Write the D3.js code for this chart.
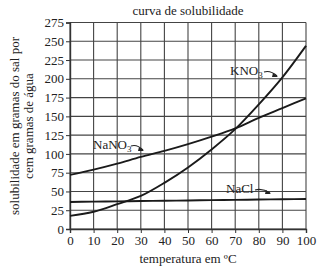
<!DOCTYPE html>
<html lang="pt">
<head>
<meta charset="UTF-8"/>
<title>curva de solubilidade</title>
<script src="https://d3js.org/d3.v7.min.js"></script>
<style>
	body { margin: 0; background: #fff; }
	text { font-family: "Liberation Serif", "DejaVu Serif", serif; fill: #222; }
</style>
</head>
<body>
<script>
	var w = 333;
	var h = 269;

	// temperatures (ºC) and solubility (g per 100 g water)
	var temps = [0, 10, 20, 30, 40, 50, 60, 70, 80, 90, 100];
	var kno3  = [17.5, 23, 33, 44, 61.5, 82, 106, 133, 166, 202, 244];
	var nano3 = [72, 79, 87, 96, 104, 113, 123, 134, 148, 161, 174];
	var nacl  = [36, 36.4, 36.8, 37.2, 37.6, 38, 38.4, 38.8, 39.2, 39.6, 40];
	var yTicks = [0, 25, 50, 75, 100, 125, 150, 175, 200, 225, 250, 275];

	var xScale = d3.scaleLinear().domain([0, 100]).range([70, 306]);
	var yScale = d3.scaleLinear().domain([0, 275]).range([229, 22.5]);

	var svg = d3.select("body").append("svg")
		.attr("width", w)
		.attr("height", h);

	// grid
	svg.append("g").selectAll("line")
		.data(temps)
		.enter().append("line")
		.attr("x1", function(d) { return xScale(d); })
		.attr("x2", function(d) { return xScale(d); })
		.attr("y1", yScale(0))
		.attr("y2", yScale(275))
		.attr("stroke", "#444")
		.attr("stroke-width", 1.1);
	svg.append("g").selectAll("line")
		.data(yTicks)
		.enter().append("line")
		.attr("x1", xScale(0))
		.attr("x2", xScale(100))
		.attr("y1", function(d) { return yScale(d); })
		.attr("y2", function(d) { return yScale(d); })
		.attr("stroke", "#444")
		.attr("stroke-width", 1.1);

	// axes
	var xAxis = d3.axisBottom(xScale).tickValues(temps).tickSize(4).tickPadding(3);
	var yAxis = d3.axisLeft(yScale).tickValues(yTicks).tickSize(4).tickPadding(2);

	var gx = svg.append("g")
		.attr("transform", "translate(0," + yScale(0) + ")")
		.call(xAxis);
	var gy = svg.append("g")
		.attr("transform", "translate(" + xScale(0) + ",0)")
		.call(yAxis);
	[gx, gy].forEach(function(g) {
		g.select(".domain").attr("stroke", "#333").attr("stroke-width", 1.4);
		g.selectAll(".tick line").attr("stroke", "#333");
		g.selectAll(".tick text")
			.attr("font-family", "Liberation Serif")
			.attr("font-size", 13)
			.attr("fill", "#222");
	});

	// curves
	var line = d3.line()
		.x(function(d) { return xScale(d[0]); })
		.y(function(d) { return yScale(d[1]); })
		.curve(d3.curveMonotoneX);

	[kno3, nano3, nacl].forEach(function(s) {
		svg.append("path")
			.datum(temps.map(function(t, i) { return [t, s[i]]; }))
			.attr("d", line)
			.attr("fill", "none")
			.attr("stroke", "#1a1a1a")
			.attr("stroke-width", 1.9);
	});

	// labels with small arrows
	function label(txt, x, y) {
		var t = svg.append("text")
			.attr("x", x).attr("y", y)
			.attr("font-size", 13);
		t.append("tspan").text(txt);
		t.append("tspan").text("3").attr("font-size", 9).attr("dy", 3);
		return t;
	}
	function labelPlain(txt, x, y) {
		return svg.append("text").attr("x", x).attr("y", y).attr("font-size", 13).text(txt);
	}
	function arrow(x1, y1, x2, y2) {
		svg.append("path")
			.attr("d", "M" + x1 + "," + y1 + " Q" + ((x1 + x2) / 2) + "," + (y1 - 2) + " " + x2 + "," + y2)
			.attr("fill", "none")
			.attr("stroke", "#222")
			.attr("stroke-width", 1.2);
		svg.append("path")
			.attr("d", "M" + (x2 - 4) + "," + (y2 - 3) + " L" + (x2 + 1) + "," + (y2 + 1) + " L" + (x2 - 5) + "," + (y2 + 1) + "Z")
			.attr("fill", "#222");
	}

	label("KNO", 230, 75);
	arrow(264, 72, 277, 76);
	label("NaNO", 93, 149);
	arrow(131, 146, 143, 150);
	labelPlain("NaCl", 226, 193);
	arrow(255, 190, 270, 193);

	// title
	svg.append("text")
		.attr("x", 188).attr("y", 15)
		.attr("text-anchor", "middle")
		.attr("font-size", 13)
		.text("curva de solubilidade");

	// x label
	svg.append("text")
		.attr("x", 188).attr("y", 263)
		.attr("text-anchor", "middle")
		.attr("font-size", 13)
		.text("temperatura em ºC");

	// y label (two lines)
	svg.append("text")
		.attr("transform", "rotate(-90)")
		.attr("x", -126).attr("y", 19)
		.attr("text-anchor", "middle")
		.attr("font-size", 13)
		.text("solubilidade em gramas do sal por");
	svg.append("text")
		.attr("transform", "rotate(-90)")
		.attr("x", -126).attr("y", 33)
		.attr("text-anchor", "middle")
		.attr("font-size", 13)
		.text("cem gramas de água");
</script>
</body>
</html>
